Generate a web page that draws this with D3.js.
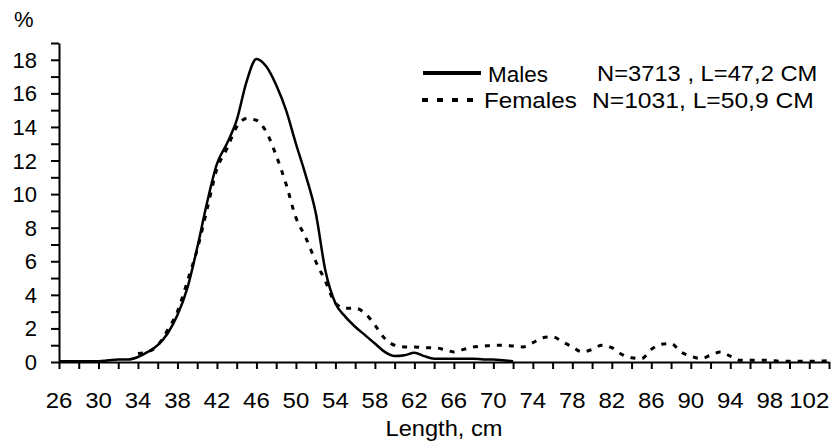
<!DOCTYPE html>
<html>
<head>
<meta charset="utf-8">
<script src="https://cdn.jsdelivr.net/npm/d3@7"></script>
<style>
  body { margin: 0; background: #fff; }
  svg { font-family: "Liberation Sans", Arial, sans-serif; }
</style>
</head>
<body>
<script>
// length classes, cm
const lengths = [26, 27, 28, 29, 30, 31, 32, 33, 34, 35, 36, 37, 38, 39, 40, 41, 42, 43, 44, 45,
  46, 47, 48, 49, 50, 51, 52, 53, 54, 55, 56, 57, 58, 59, 60, 61, 62, 63, 64, 65,
  66, 67, 68, 69, 70, 71, 72, 73, 74, 75, 76, 77, 78, 79, 80, 81, 82, 83, 84, 85,
  86, 87, 88, 89, 90, 91, 92, 93, 94, 95, 96, 97, 98, 99, 100, 101, 102, 103, 104];

// % of males per length class
const males = [0.05, 0.05, 0.05, 0.05, 0.05, 0.1, 0.15, 0.15, 0.3, 0.6, 1.0, 1.7, 2.8, 4.4, 6.8, 9.5, 11.8, 13.0, 14.4, 16.7,
  18.05, 17.6, 16.5, 15.0, 13.0, 11.1, 8.9, 5.4, 3.5, 2.7, 2.1, 1.6, 1.1, 0.6, 0.35, 0.4, 0.55, 0.35, 0.2, 0.2,
  0.2, 0.2, 0.2, 0.15, 0.15, 0.1, 0.05, null, null, null, null, null, null, null, null, null, null, null, null, null,
  null, null, null, null, null, null, null, null, null, null, null, null, null, null, null, null, null, null, null];

// % of females per length class
const females = [null, null, null, null, null, null, null, null, 0.5, 0.6, 1.0, 1.9, 3.0, 4.8, 6.7, 9.1, 11.5, 12.7, 14.0, 14.5,
  14.4, 13.7, 12.3, 10.6, 8.6, 7.4, 6.0, 4.8, 3.5, 3.2, 3.2, 2.9, 2.2, 1.4, 1.0, 0.9, 0.9, 0.85, 0.85, 0.75,
  0.6, 0.75, 0.9, 0.95, 1.0, 1.0, 0.95, 0.9, 1.15, 1.45, 1.5, 1.2, 0.9, 0.6, 0.75, 1.0, 0.85, 0.45, 0.25, 0.2,
  0.75, 1.05, 1.1, 0.6, 0.35, 0.2, 0.4, 0.6, 0.35, 0.1, 0.1, 0.1, 0.1, 0.05, 0.05, 0.05, 0.05, 0.05, 0.1];

const xLabels = [26, 30, 34, 38, 42, 46, 50, 54, 58, 62, 66, 70, 74, 78, 82, 86, 90, 94, 98, 102];
const yLabels = [0, 2, 4, 6, 8, 10, 12, 14, 16, 18];

const width = 833, height = 444;
const margin = {top: 43, right: 4, bottom: 82, left: 59};
const fontSize = 22;
const stretch = 1.09; // text in the original is a little wider than plain Arial

const x = d3.scaleLinear()
    .domain([26, 104])
    .range([margin.left, width - margin.right]);
const y = d3.scaleLinear()
    .domain([0, 19])
    .range([height - margin.bottom, margin.top]);

const svg = d3.select("body").append("svg")
    .attr("width", width)
    .attr("height", height);

// wide text helper
const say = (g, px, py, str, anchor = "start", sx = stretch) => g.append("text")
    .attr("transform", `translate(${px},${py}) scale(${sx},1)`)
    .attr("font-size", fontSize)
    .attr("text-anchor", anchor)
    .text(str);

// x axis: ticks every 2 cm, labels every 4 cm
svg.append("g")
    .attr("transform", `translate(0,${y(0)})`)
    .call(d3.axisBottom(x).tickValues(d3.range(26, 105, 2)).tickSize(7).tickSizeOuter(0).tickFormat(""))
    .call(g => g.selectAll("path, line").attr("stroke", "#000").attr("stroke-width", 2));

const xl = svg.append("g");
xLabels.forEach(d => say(xl, x(d), 408, d, "middle"));

// y axis: minor ticks every 1, labels every 2
svg.append("g")
    .attr("transform", `translate(${x(26)},0)`)
    .call(d3.axisLeft(y).tickValues(d3.range(0, 20, 1)).tickSize(8).tickSizeOuter(0).tickFormat(""))
    .call(g => g.selectAll("path, line").attr("stroke", "#000").attr("stroke-width", 2));

const yl = svg.append("g");
yLabels.forEach(d => say(yl, 37, y(d) + 8, d, "end", 1));

say(svg, 14, 27, "%", "start", 1);
say(svg, (x(26) + x(104)) / 2, 436, "Length, cm", "middle", 1.075);

const line = values => d3.line()
    .defined((d, i) => values[i] != null)
    .x(d => x(d))
    .y((d, i) => y(values[i]))
    .curve(d3.curveMonotoneX)(lengths);

svg.append("path")
    .attr("d", line(females))
    .attr("fill", "none")
    .attr("stroke", "#000")
    .attr("stroke-width", 3)
    .attr("stroke-dasharray", "5,7");

svg.append("path")
    .attr("d", line(males))
    .attr("fill", "none")
    .attr("stroke", "#000")
    .attr("stroke-width", 2.5);

// legend
const legend = svg.append("g");
legend.append("line")
    .attr("x1", 423).attr("x2", 481).attr("y1", 73).attr("y2", 73)
    .attr("stroke", "#000").attr("stroke-width", 4);
say(legend, 488, 82, "Males", "start", 1.02);
say(legend, 597, 81, "N=3713 , L=47,2 CM", "start", 1.08);

legend.append("line")
    .attr("x1", 422).attr("x2", 482).attr("y1", 100).attr("y2", 100)
    .attr("stroke", "#000").attr("stroke-width", 4)
    .attr("stroke-dasharray", "6,9");
say(legend, 484, 108, "Females", "start", 1.1);
say(legend, 592, 108, "N=1031, L=50,9 CM", "start", 1.12);
</script>
</body>
</html>
